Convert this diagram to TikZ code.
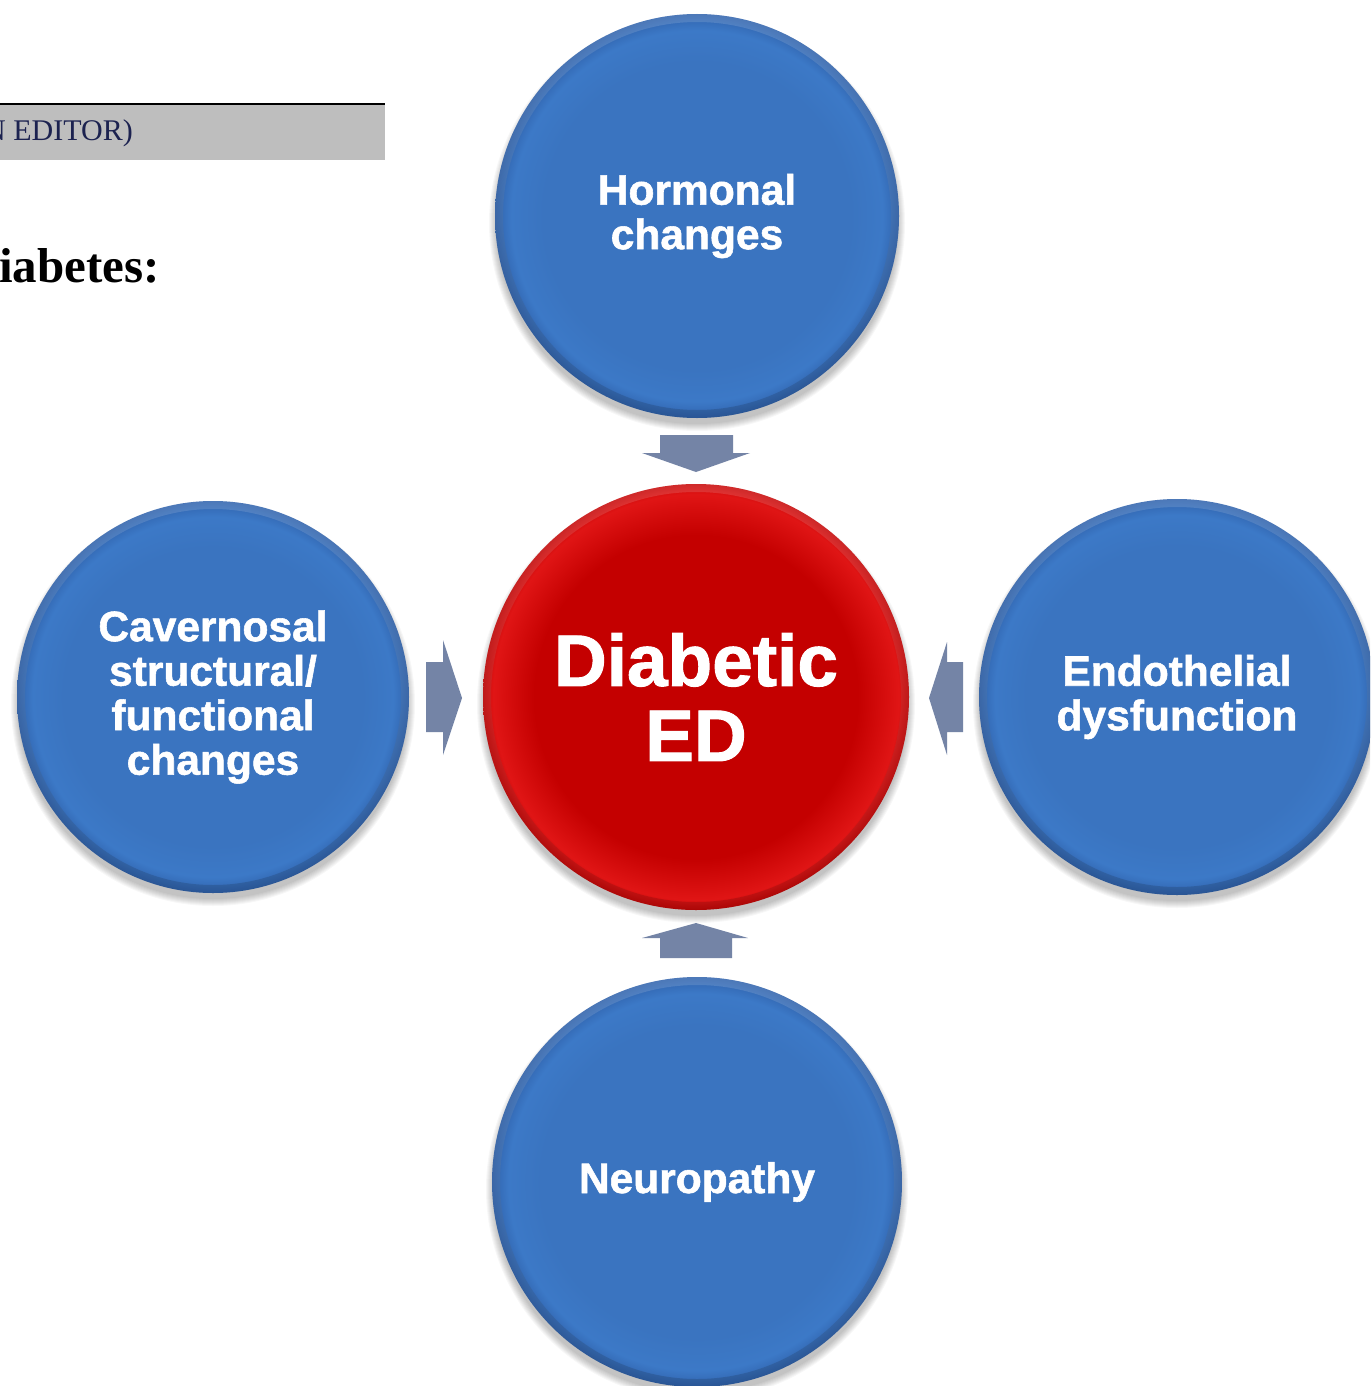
\documentclass[tikz,border=0pt]{standalone}
\usepackage{fontspec}
\setmainfont{Liberation Sans}[BoldFeatures={FakeBold=1.3}]
\newfontfamily\tnrfont{Liberation Serif}
\definecolor{bA}{HTML}{3A74C0}
\definecolor{bB}{HTML}{3C79C7}
\definecolor{bC}{HTML}{3063AD}
\definecolor{rA}{HTML}{C40000}
\definecolor{rB}{HTML}{E01515}
\definecolor{rC}{HTML}{C80808}
\definecolor{arrowc}{HTML}{7484A6}
\definecolor{boxgray}{HTML}{BEBEBE}
\definecolor{navytext}{HTML}{1C2250}
\pgfdeclareradialshading{bluedisc}{\pgfpoint{0bp}{0bp}}{color(0bp)=(bA); color(19bp)=(bA); color(23bp)=(bB); color(25bp)=(bC); color(50bp)=(bC)}
\pgfdeclareradialshading{reddisc}{\pgfpoint{0bp}{0bp}}{color(0bp)=(rA); color(19bp)=(rA); color(23.8bp)=(rB); color(25bp)=(rC); color(50bp)=(rC)}
\tikzset{
  disc/.style={circle, inner sep=0pt, align=center, text=white,
     font=\bfseries\fontsize{42.5}{44.5}\selectfont},
  bluedisc/.style={disc, shading=bluedisc},
  reddisc/.style={disc, shading=reddisc, font=\bfseries\fontsize{73}{75}\selectfont},
  blockarrow/.style={fill=arrowc, draw=none},
}
\newcommand{\discshadow}[3]{% x, y, r
  \foreach \k in {1,...,8}{
    \fill[black, opacity=0.03] (#1,#2+7) circle[radius=#3pt+\k pt-2pt];
  }
}
\newcommand{\discrim}[3]{%
  \shade[even odd rule, top color=white, bottom color=black, opacity=0.14]
    (#1,#2) circle[radius=#3pt] (#1,#2) circle[radius=#3pt-8pt];
}
\begin{document}
\begin{tikzpicture}[x=1pt,y=-1pt]
\useasboundingbox (0,0) rectangle (1370,1386);
\fill[white] (0,0) rectangle (1370,1386);
\clip (0,0) rectangle (1370,1386);

% header fragments
\fill[boxgray] (0,104) rectangle (385,160);
\draw[black, line width=2pt] (0,104) -- (385,104);
\node[anchor=base west, inner sep=0pt, text=navytext,
      font=\tnrfont\fontsize{30}{30}\selectfont] (editor) at (-16,140) {N EDITOR)};
\node[anchor=base west, inner sep=0pt, text=black,
      font=\tnrfont\bfseries\fontsize{49}{49}\selectfont] (diab) at (-1,282) {iabetes:};

% shadows
\discshadow{697}{216}{202}
\discshadow{213}{697}{196}
\discshadow{696}{697}{213}
\discshadow{1177}{697}{198}
\discshadow{697}{1182}{205}

% discs
\node[bluedisc, minimum size=404pt] (horm) at (697,216) {Hormonal\\changes};
\node[bluedisc, minimum size=392pt] (cav) at (213,697) {Cavernosal\\structural/\\functional\\changes};
\node[reddisc, minimum size=426pt] (ed) at (696,697) {Diabetic\\ED};
\node[bluedisc, minimum size=396pt] (endo) at (1177,697) {Endothelial\\dysfunction};
\node[bluedisc, minimum size=410pt] (neuro) at (697,1182) {Neuropathy};

\discrim{697}{216}{202}
\discrim{213}{697}{196}
\discrim{696}{697}{213}
\discrim{1177}{697}{198}
\discrim{697}{1182}{205}

% block arrows
\fill[blockarrow] (660,435) -- (733,435) -- (733,453) -- (750,453) -- (696,472) -- (642,453) -- (660,453) -- cycle;
\fill[blockarrow] (660,958) -- (732,958) -- (732,938) -- (748,938) -- (696,923) -- (642,938) -- (660,938) -- cycle;
\fill[blockarrow] (426,662) -- (443,662) -- (443,640) -- (462,698) -- (443,755) -- (443,732) -- (426,732) -- cycle;
\fill[blockarrow] (963,662) -- (947,662) -- (947,642) -- (929,698) -- (947,755) -- (947,732) -- (963,732) -- cycle;
\end{tikzpicture}
\end{document}
